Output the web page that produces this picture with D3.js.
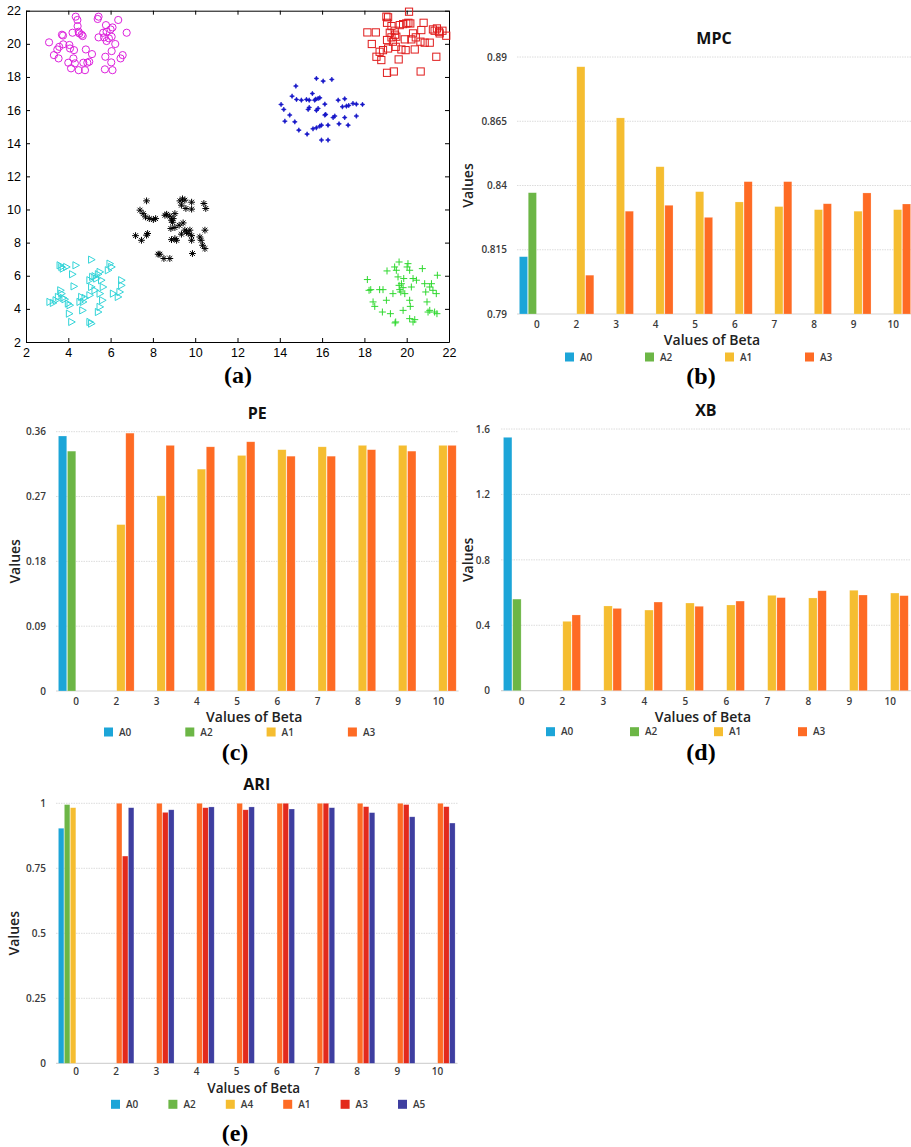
<!DOCTYPE html>
<html>
<head>
<meta charset="utf-8">
<script src="https://cdn.jsdelivr.net/npm/d3@7"></script>
<style>
  html, body { margin: 0; padding: 0; background: #fff; }
  svg { display: block; }
</style>
</head>
<body>
<svg id="fig" width="911" height="1147"></svg>
<script>
// ---------- (a) synthetic clusters ----------
const magentaPoints = [[3.09,20.09],[3.32,19.32],[3.54,19.12],[3.48,19.66],[3.57,19.82],[3.70,20.55],[3.75,20.50],[3.76,19.97],[4.05,19.93],[4.08,19.72],[4.13,18.52],[4.24,19.12],[4.27,19.62],[4.20,20.67],[4.35,21.64],[4.43,21.44],[4.44,21.07],[4.49,20.73],[4.52,20.63],[4.63,20.55],[4.68,20.47],[4.49,18.41],[4.79,18.41],[4.71,18.86],[4.83,19.66],[4.90,18.86],[4.99,18.92],[5.12,19.38],[5.43,21.64],[5.39,21.50],[5.43,20.39],[5.65,20.67],[5.69,20.39],[5.78,21.13],[5.81,20.17],[5.75,19.22],[5.73,18.46],[5.81,20.73],[6.00,20.87],[6.05,20.43],[6.09,20.99],[6.05,19.56],[6.03,18.88],[6.09,18.41],[6.22,19.99],[6.36,21.44],[6.47,19.12],[6.57,19.32],[6.76,20.67],[5.92,20.33],[4.31,18.82],[4.00,18.86]];
const redPoints = [[18.14,20.69],[18.54,20.69],[18.35,19.99],[18.57,19.22],[18.80,19.02],[19.04,21.64],[19.12,21.60],[19.07,21.27],[19.07,20.23],[19.12,19.72],[19.07,18.25],[19.39,18.33],[19.20,20.67],[19.28,21.07],[19.43,20.79],[19.45,20.55],[19.51,20.43],[19.48,19.82],[19.62,19.06],[19.67,21.13],[19.83,21.19],[19.91,20.27],[19.95,19.62],[19.98,21.23],[20.11,21.94],[20.08,21.27],[20.17,21.23],[20.22,20.27],[20.38,19.66],[20.43,20.39],[20.65,20.13],[20.69,20.83],[20.80,21.27],[20.66,18.33],[20.85,20.07],[21.09,20.07],[21.24,20.87],[21.32,20.79],[21.43,20.93],[21.40,19.22],[21.53,20.73],[21.69,20.79],[21.87,20.49],[21.56,20.63],[18.72,19.52],[18.88,19.62],[19.28,20.39],[19.75,19.66],[20.30,20.63],[19.35,20.13]];
const bluePoints = [[15.73,17.91],[16.05,17.75],[16.46,17.85],[14.76,17.45],[14.58,16.84],[14.79,16.64],[15.02,16.60],[15.26,16.64],[15.39,16.60],[15.54,17.00],[15.70,16.66],[15.81,16.70],[15.89,16.74],[14.06,16.34],[14.19,16.04],[14.47,15.70],[14.24,15.33],[14.71,15.29],[14.90,14.79],[15.29,14.55],[15.57,14.87],[15.73,14.93],[15.89,15.03],[15.97,15.09],[16.13,15.70],[16.17,15.74],[16.28,15.09],[16.60,15.64],[16.52,15.55],[15.81,16.10],[15.73,15.98],[15.34,16.04],[15.39,16.16],[16.76,16.60],[17.07,16.68],[16.96,16.20],[17.15,16.24],[17.46,16.40],[17.62,16.36],[17.91,16.34],[17.07,15.55],[17.23,15.09],[17.62,15.64],[15.97,14.19],[16.28,14.19],[16.80,15.17],[16.13,16.36],[15.65,16.60],[17.26,16.28]];
const blackPoints = [[7.70,10.52],[7.39,9.96],[7.54,9.75],[7.65,9.55],[7.83,9.45],[8.02,9.39],[8.13,9.45],[7.18,8.42],[7.46,8.14],[7.70,8.45],[7.75,8.55],[8.25,7.30],[8.33,7.30],[8.52,7.04],[8.80,7.04],[8.57,9.65],[8.65,9.71],[8.80,9.59],[8.88,9.35],[8.96,9.45],[9.04,9.75],[9.28,10.52],[9.40,10.64],[9.51,10.56],[9.35,10.26],[9.56,10.06],[9.83,10.44],[9.83,10.02],[10.41,10.36],[10.50,10.06],[8.85,8.85],[9.04,8.91],[9.24,9.05],[9.43,9.19],[9.51,8.75],[9.59,8.65],[9.67,8.55],[9.75,8.75],[9.35,8.51],[8.88,8.18],[9.04,8.24],[9.83,8.42],[9.83,8.14],[9.87,7.34],[10.22,8.34],[10.28,8.14],[10.35,7.84],[10.46,8.75],[10.46,7.64],[9.12,8.14],[8.93,9.23]];
const cyanPoints = [[3.13,4.42],[3.29,4.36],[3.42,4.52],[3.61,6.63],[3.69,6.53],[3.76,6.43],[3.92,6.53],[4.36,6.63],[4.20,6.09],[4.27,5.36],[3.64,5.12],[3.69,4.92],[3.53,4.72],[3.76,4.66],[3.84,4.58],[4.00,4.32],[4.08,4.22],[4.05,3.71],[4.16,3.21],[4.55,4.42],[4.63,4.72],[4.79,4.66],[4.68,3.91],[5.02,4.82],[5.10,6.97],[5.02,5.73],[5.15,5.93],[5.26,5.97],[5.34,5.83],[5.42,6.09],[5.50,6.23],[5.57,5.73],[5.65,5.32],[5.10,5.32],[5.26,5.12],[5.50,4.92],[5.62,4.52],[5.50,4.12],[5.42,3.81],[5.10,3.11],[5.02,3.21],[5.97,6.73],[5.89,6.33],[6.05,6.53],[6.52,5.73],[6.52,5.42],[6.44,5.02],[6.13,4.92],[6.36,4.72],[4.71,4.42]];
const greenPoints = [[18.14,5.77],[18.30,5.16],[18.41,4.42],[18.49,4.15],[18.22,5.12],[18.72,5.16],[18.88,5.16],[18.85,3.81],[19.04,4.52],[19.07,6.29],[19.23,3.71],[19.48,3.21],[19.45,3.15],[19.51,6.33],[19.64,6.83],[19.59,5.93],[19.64,5.42],[19.67,5.16],[19.72,5.02],[19.75,5.52],[19.83,5.28],[19.86,5.83],[19.91,4.92],[19.83,3.91],[20.06,6.73],[20.02,6.53],[20.14,6.33],[20.14,4.52],[20.14,3.41],[20.17,4.15],[20.22,5.32],[20.30,5.83],[20.38,3.35],[20.30,3.21],[20.74,6.43],[20.85,5.52],[20.90,5.02],[20.96,4.42],[21.01,3.81],[21.09,5.32],[21.17,5.52],[21.24,5.12],[21.32,3.81],[21.45,6.03],[21.40,4.92],[21.43,3.71],[19.35,4.92],[19.43,6.53],[20.46,5.73],[21.09,3.91]];
const scatterTicks = [2,4,6,8,10,12,14,16,18,20,22];

// ---------- (b)-(e) validity indices over beta ----------
const betaCategories = ["0","2","3","4","5","6","7","8","9","10"];

const mpcTicks = [0.79, 0.815, 0.84, 0.865, 0.89];
const mpcA0 = [0.8123, null, null, null, null, null, null, null, null, null];
const mpcA2 = [0.8372, null, null, null, null, null, null, null, null, null];
const mpcA1 = [null, 0.8862, 0.8663, 0.8473, 0.8376, 0.8336, 0.8318, 0.8306, 0.8300, 0.8306];
const mpcA3 = [null, 0.8051, 0.8300, 0.8323, 0.8276, 0.8415, 0.8415, 0.8329, 0.8371, 0.8328];

const peTicks = [0, 0.09, 0.18, 0.27, 0.36];
const peA0 = [0.354, null, null, null, null, null, null, null, null, null];
const peA2 = [0.333, null, null, null, null, null, null, null, null, null];
const peA1 = [null, 0.231, 0.271, 0.308, 0.327, 0.335, 0.339, 0.341, 0.341, 0.341];
const peA3 = [null, 0.358, 0.341, 0.339, 0.346, 0.326, 0.326, 0.335, 0.333, 0.341];

const xbTicks = [0, 0.4, 0.8, 1.2, 1.6];
const xbA0 = [1.549, null, null, null, null, null, null, null, null, null];
const xbA2 = [0.560, null, null, null, null, null, null, null, null, null];
const xbA1 = [null, 0.424, 0.518, 0.493, 0.536, 0.524, 0.583, 0.567, 0.614, 0.597];
const xbA3 = [null, 0.463, 0.503, 0.542, 0.516, 0.548, 0.569, 0.611, 0.585, 0.581];

const ariTicks = [0, 0.25, 0.5, 0.75, 1];
const ariA0 = [0.904, null, null, null, null, null, null, null, null, null];
const ariA2 = [0.995, null, null, null, null, null, null, null, null, null];
const ariA4 = [0.983, null, null, null, null, null, null, null, null, null];
const ariA1 = [null, 1.0, 1.0, 1.0, 1.0, 1.0, 1.0, 1.0, 1.0, 1.0];
const ariA3 = [null, 0.797, 0.965, 0.983, 0.975, 1.0, 1.0, 0.987, 0.995, 0.987];
const ariA5 = [null, 0.983, 0.975, 0.986, 0.986, 0.978, 0.983, 0.964, 0.948, 0.924];

const COL = {
  blue: "#1ca5d8", green: "#6cb646", yellow: "#f5bd30",
  orange: "#fe6b24", red: "#e32a1c", indigo: "#3e3ea0"
};

const svg = d3.select("#fig");
const SANS = "'Open Sans', 'Noto Sans', sans-serif";
const SERIF = "'Liberation Serif', 'Times New Roman', serif";

// ---------- scatter panel ----------
(function drawScatter() {
  const L = 26, R = 449, T = 10.7, B = 342;
  const x = d3.scaleLinear().domain([2, 22]).range([L, R]);
  const y = d3.scaleLinear().domain([2, 22]).range([B, T]);
  const g = svg.append("g");
  const styleAxis = (sel, labels) => {
    sel.select(".domain").attr("stroke", "#000").attr("stroke-width", 1);
    sel.selectAll(".tick line").attr("stroke", "#000");
    sel.selectAll(".tick text")
      .style("font-family", "'Liberation Sans', Arial, sans-serif")
      .style("font-size", "12.5px").attr("fill", "#000");
    if (!labels) sel.selectAll(".tick text").remove();
  };
  g.append("g").attr("transform", `translate(0,${B})`)
    .call(d3.axisBottom(x).tickValues(scatterTicks).tickSizeInner(-4).tickSizeOuter(0).tickPadding(6))
    .call(s => styleAxis(s, true));
  g.append("g").attr("transform", `translate(${L},0)`)
    .call(d3.axisLeft(y).tickValues(scatterTicks).tickSizeInner(-4).tickSizeOuter(0).tickPadding(5))
    .call(s => styleAxis(s, true));
  g.append("g").attr("transform", `translate(0,${T})`)
    .call(d3.axisTop(x).tickValues(scatterTicks).tickSizeInner(-4).tickSizeOuter(0))
    .call(s => styleAxis(s, false));
  g.append("g").attr("transform", `translate(${R},0)`)
    .call(d3.axisRight(y).tickValues(scatterTicks).tickSizeInner(-4).tickSizeOuter(0))
    .call(s => styleAxis(s, false));

  const pts = g.append("g").attr("fill", "none").attr("stroke-width", 1);
  // open circles
  pts.selectAll("circle.m").data(magentaPoints).join("circle")
    .attr("cx", d => x(d[0])).attr("cy", d => y(d[1])).attr("r", 3.6)
    .attr("stroke", "#dd22dd");
  // open squares
  pts.selectAll("rect.r").data(redPoints).join("rect")
    .attr("x", d => x(d[0]) - 3.6).attr("y", d => y(d[1]) - 3.6)
    .attr("width", 7.2).attr("height", 7.2).attr("stroke", "#e01c1c");
  // small filled stars
  pts.selectAll("path.b").data(bluePoints).join("path")
    .attr("transform", d => `translate(${x(d[0])},${y(d[1])})`)
    .attr("d", "M-2.4,0L-0.8,-0.8L0,-2.4L0.8,-0.8L2.4,0L0.8,0.8L0,2.4L-0.8,0.8Z")
    .attr("fill", "#1515c8").attr("stroke", "#1515c8").attr("stroke-width", 0.6);
  // asterisks
  pts.selectAll("path.k").data(blackPoints).join("path")
    .attr("transform", d => `translate(${x(d[0])},${y(d[1])})`)
    .attr("d", "M-3.4,0H3.4M0,-3.4V3.4M-2.4,-2.4L2.4,2.4M-2.4,2.4L2.4,-2.4")
    .attr("stroke", "#000");
  // right-pointing triangles
  pts.selectAll("path.c").data(cyanPoints).join("path")
    .attr("transform", d => `translate(${x(d[0])},${y(d[1])})`)
    .attr("d", "M-3,-3.6L3.6,0L-3,3.6Z")
    .attr("stroke", "#33d4d8");
  // plus signs
  pts.selectAll("path.gp").data(greenPoints).join("path")
    .attr("transform", d => `translate(${x(d[0])},${y(d[1])})`)
    .attr("d", "M-3.5,0H3.5M0,-3.5V3.5")
    .attr("stroke", "#2fd82f");
})();

// ---------- grouped bar panels ----------
function drawBarPanel(cfg) {
  const g = svg.append("g");
  const n = betaCategories.length;
  const right = cfg.left + cfg.step * n;
  const x0 = d3.scaleBand().domain(betaCategories)
    .range([cfg.left, right]).paddingInner(0.12).paddingOuter(0.06);
  const x1 = d3.scaleBand().domain(cfg.series.map(s => s.name))
    .range([0, x0.bandwidth()]).paddingInner(0.08);
  const y = d3.scaleLinear().domain(cfg.domain).range([cfg.bottom, cfg.top]);

  // gridlines
  g.append("g").selectAll("line").data(cfg.ticks).join("line")
    .attr("x1", cfg.left).attr("x2", right)
    .attr("y1", d => y(d)).attr("y2", d => y(d))
    .attr("stroke", d => d === cfg.domain[0] ? "#d4d4d4" : "#dcdcdc")
    .attr("stroke-width", d => d === cfg.domain[0] ? 1.2 : 1)
    .attr("stroke-dasharray", d => d === cfg.domain[0] ? null : "1.5,1");

  // y tick labels
  const ya = g.append("g").attr("transform", `translate(${cfg.left},0)`)
    .call(d3.axisLeft(y).tickValues(cfg.ticks).tickFormat(d => String(d)).tickSize(0).tickPadding(cfg.yPad));
  ya.select(".domain").remove();
  ya.selectAll("text").style("font-family", SANS).style("font-size", "10px")
    .style("font-weight", 600).attr("fill", "#3a3a3a");

  // x tick labels
  const xa = g.append("g").attr("transform", `translate(0,${cfg.bottom})`)
    .call(d3.axisBottom(x0).tickSize(0).tickPadding(cfg.xPad));
  xa.select(".domain").remove();
  xa.selectAll("text").style("font-family", SANS).style("font-size", "10px")
    .style("font-weight", 600).attr("fill", "#3a3a3a");

  // bars
  const rows = [];
  cfg.series.forEach(s => s.values.forEach((v, i) => {
    if (v !== null) rows.push({ cat: betaCategories[i], name: s.name, v, color: s.color });
  }));
  g.append("g").selectAll("rect").data(rows).join("rect")
    .attr("x", d => x0(d.cat) + x1(d.name))
    .attr("width", x1.bandwidth())
    .attr("y", d => y(d.v))
    .attr("height", d => y(cfg.domain[0]) - y(d.v))
    .attr("fill", d => d.color)
    .attr("stroke", "#fff").attr("stroke-opacity", 0.35).attr("stroke-width", 0.6);

  const cx = (cfg.left + right) / 2;
  // title
  g.append("text").attr("x", cx + (cfg.titleDx || 0)).attr("y", cfg.top - 13)
    .attr("text-anchor", "middle").style("font-family", SANS)
    .style("font-size", "16px").style("font-weight", 700).attr("fill", "#111")
    .text(cfg.title);
  // axis titles
  g.append("text").attr("x", cx - 3).attr("y", cfg.bottom + cfg.xTitleDy)
    .attr("text-anchor", "middle").style("font-family", SANS)
    .style("font-size", cfg.xTitleSize + "px").style("font-weight", 600).attr("fill", "#222")
    .text("Values of Beta");
  g.append("text")
    .attr("transform", `translate(${cfg.yTitleX},${(cfg.top + cfg.bottom) / 2}) rotate(-90)`)
    .attr("text-anchor", "middle").attr("dy", "0.35em").style("font-family", SANS)
    .style("font-size", "14px").style("font-weight", 600).attr("fill", "#222")
    .text("Values");

  // legend
  const lg = g.append("g").attr("transform", `translate(${cfg.legendX},${cfg.bottom + cfg.legendDy})`);
  const item = lg.selectAll("g").data(cfg.series).join("g")
    .attr("transform", (d, i) => `translate(${i * cfg.legendStep},0)`);
  item.append("rect").attr("x", 0).attr("y", -4.5).attr("width", 9).attr("height", 9)
    .attr("fill", d => d.color);
  item.append("text").attr("x", 15).attr("y", 0).attr("dy", "0.35em")
    .style("font-family", SANS).style("font-size", "10px").style("font-weight", 600)
    .attr("fill", "#3a3a3a").text(d => d.name);

  // panel letter
  g.append("text").attr("x", cfg.letterX).attr("y", cfg.letterY)
    .attr("text-anchor", "middle")
    .style("font-family", SERIF)
    .style("font-size", "24px").style("font-weight", 700).attr("fill", "#000")
    .text(cfg.letter);
}

// (a) letter
svg.append("text").attr("x", 238).attr("y", 383).attr("text-anchor", "middle")
  .style("font-family", SERIF)
  .style("font-size", "24px").style("font-weight", 700).text("(a)");

drawBarPanel({
  title: "MPC", left: 517, step: 39.6, top: 57, bottom: 314,
  domain: [0.79, 0.89], ticks: mpcTicks, yPad: 10, xPad: 7, yTitleX: 468,
  legendX: 565, legendStep: 80, legendDy: 43, titleDx: -1, xTitleDy: 31, xTitleSize: 14,
  letter: "(b)", letterX: 701, letterY: 384,
  series: [
    { name: "A0", values: mpcA0, color: COL.blue },
    { name: "A2", values: mpcA2, color: COL.green },
    { name: "A1", values: mpcA1, color: COL.yellow },
    { name: "A3", values: mpcA3, color: COL.orange }
  ]
});

drawBarPanel({
  title: "PE", left: 56, step: 40.26, top: 431.7, bottom: 691,
  domain: [0, 0.36], ticks: peTicks, yPad: 10, xPad: 7, yTitleX: 15,
  legendX: 104, legendStep: 81.3, legendDy: 41, xTitleDy: 31, xTitleSize: 14,
  letter: "(c)", letterX: 235, letterY: 760,
  series: [
    { name: "A0", values: peA0, color: COL.blue },
    { name: "A2", values: peA2, color: COL.green },
    { name: "A1", values: peA1, color: COL.yellow },
    { name: "A3", values: peA3, color: COL.orange }
  ]
});

drawBarPanel({
  title: "XB", left: 501, step: 40.97, top: 429, bottom: 690.7,
  domain: [0, 1.6], ticks: xbTicks, yPad: 11, xPad: 7, yTitleX: 468,
  legendX: 546, legendStep: 84, legendDy: 41, xTitleDy: 31, xTitleSize: 14,
  letter: "(d)", letterX: 701, letterY: 760,
  series: [
    { name: "A0", values: xbA0, color: COL.blue },
    { name: "A2", values: xbA2, color: COL.green },
    { name: "A1", values: xbA1, color: COL.yellow },
    { name: "A3", values: xbA3, color: COL.orange }
  ]
});

drawBarPanel({
  title: "ARI", left: 56, step: 40.15, top: 803.3, bottom: 1063.3,
  domain: [0, 1], ticks: ariTicks, yPad: 10, xPad: 5, yTitleX: 14,
  legendX: 111, legendStep: 57.4, legendDy: 41, xTitleDy: 29.7, xTitleSize: 13.5,
  letter: "(e)", letterX: 235, letterY: 1141,
  series: [
    { name: "A0", values: ariA0, color: COL.blue },
    { name: "A2", values: ariA2, color: COL.green },
    { name: "A4", values: ariA4, color: COL.yellow },
    { name: "A1", values: ariA1, color: COL.orange },
    { name: "A3", values: ariA3, color: COL.red },
    { name: "A5", values: ariA5, color: COL.indigo }
  ]
});
</script>
</body>
</html>
